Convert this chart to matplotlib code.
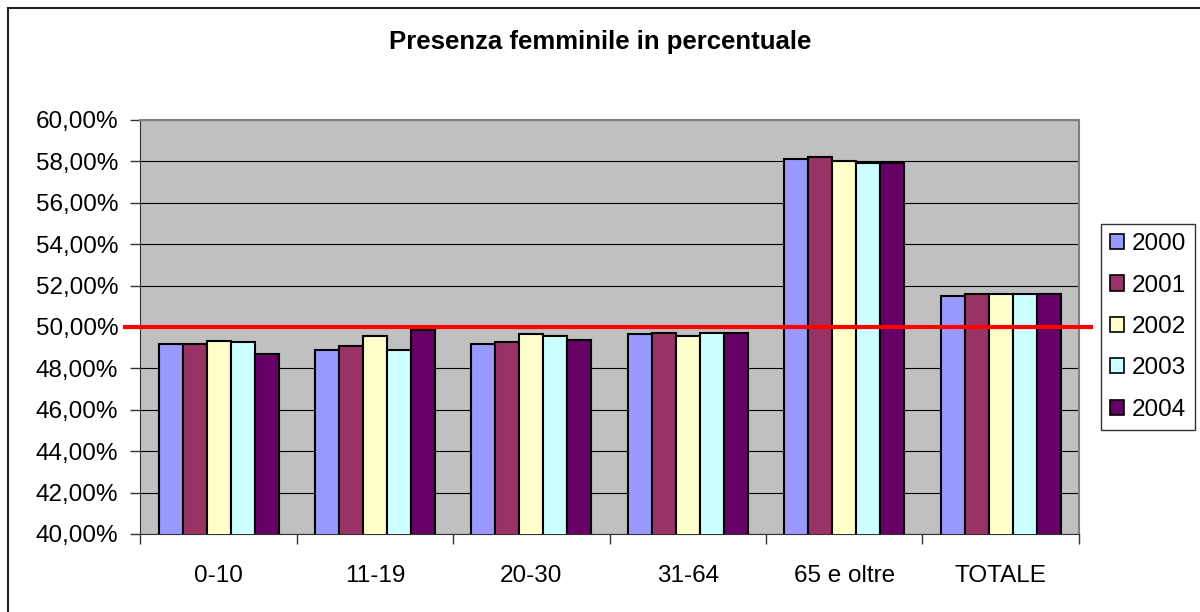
import numpy as np
from matplotlib import pyplot as plt
from matplotlib.patches import Patch, Rectangle

categories = ['0-10', '11-19', '20-30', '31-64', '65 e oltre', 'TOTALE']
years = ['2000', '2001', '2002', '2003', '2004']
v2000 = [49.17, 48.88, 49.17, 49.65, 58.11, 51.50]
v2001 = [49.16, 49.07, 49.26, 49.73, 58.22, 51.59]
v2002 = [49.34, 49.56, 49.65, 49.55, 58.01, 51.57]
v2003 = [49.26, 48.88, 49.55, 49.73, 57.93, 51.58]
v2004 = [48.70, 49.84, 49.36, 49.73, 57.93, 51.58]
colors = ['#9999FF', '#993366', '#FFFFCC', '#CCFFFF', '#660066']
threshold = 50.0

plt.rcParams['font.family'] = ['Liberation Sans', 'DejaVu Sans']

fig = plt.figure(figsize=(12, 6.12), dpi=100)
ax = fig.add_axes([0.117, 0.1275, 0.782, 0.6765])
ax.set_facecolor('#C0C0C0')

# frame around the chart (only top/left visible in the original)
fig.patches.append(Rectangle((8 / 1200, -0.1), 1.2, 1.1 - 8 / 612, transform=fig.transFigure,
                             fill=False, edgecolor='#222222', linewidth=1.5))

x = np.arange(len(categories))
w = 0.1535
series = [v2000, v2001, v2002, v2003, v2004]
for i, vals in enumerate(series):
    ax.bar(x + (i - 2) * w, vals, w, bottom=0, color=colors[i],
           edgecolor='black', linewidth=1.5, zorder=3)

ax.axhline(threshold, xmin=-0.016, xmax=1.013, color='#FF0000', linewidth=3,
           clip_on=False, zorder=4)

ax.set_ylim(40, 60)
ax.set_xlim(-0.5, len(categories) - 0.5)
ax.set_yticks(np.arange(40, 61, 2))
ax.set_yticklabels([f'{v:.2f}'.replace('.', ',') + '%' for v in np.arange(40, 61, 2)],
                   fontsize=17.5)
ax.yaxis.grid(True, color='black', linewidth=0.8, zorder=0)
ax.set_axisbelow(True)

ax.set_xticks(x)
ax.set_xticklabels(categories, fontsize=17.5)
ax.tick_params(axis='x', length=0, pad=22)
ax.set_xticks(np.arange(-0.5, len(categories)), minor=True)
ax.tick_params(axis='x', which='minor', length=7, width=1, color='#333333')
ax.tick_params(axis='y', length=7, width=1, color='#333333', pad=9)

for s in ['left', 'bottom']:
    ax.spines[s].set_color('#333333')
for s in ['top', 'right']:
    ax.spines[s].set_color('#808080')
    ax.spines[s].set_linewidth(1.5)

fig.text(0.5, 0.932, 'Presenza femminile in percentuale', ha='center', va='center',
         fontsize=18.5, fontweight='bold')

handles = [Patch(facecolor=c, edgecolor='black', linewidth=1.2) for c in colors]
leg = fig.legend(handles, years, loc='center left', bbox_to_anchor=(0.9175, 0.4657),
                 fontsize=17.5, frameon=True, fancybox=False, handlelength=0.58,
                 handleheight=0.58, handletextpad=0.3, labelspacing=0.8,
                 borderpad=0.38, borderaxespad=0)
leg.get_frame().set_edgecolor('black')
leg.get_frame().set_linewidth(1)

fig.savefig('out.png', dpi=100)
